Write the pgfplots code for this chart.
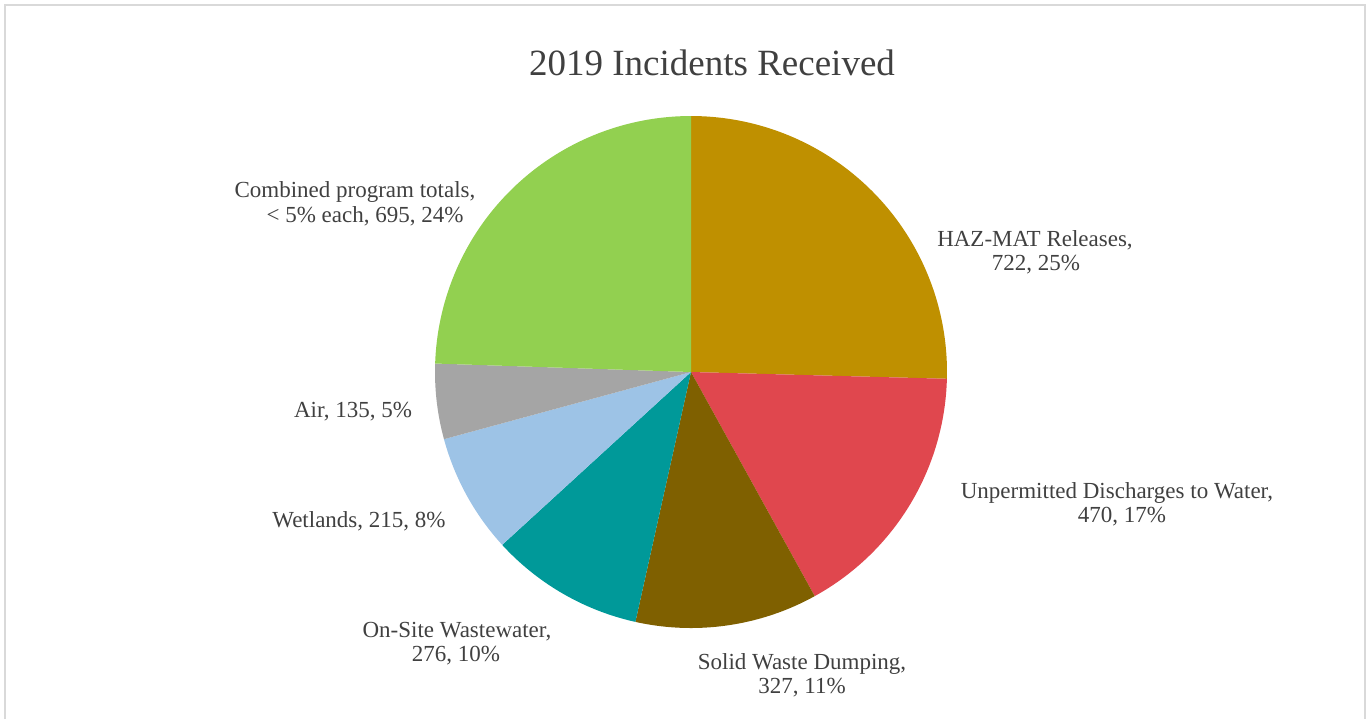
\documentclass[border=0pt]{standalone}
\usepackage{fontspec}
\setmainfont{Liberation Serif}
\usepackage{pgfplots}
\pgfplotsset{compat=1.18}
\usepgfplotslibrary{polar}

\definecolor{hazmat}{HTML}{BF9000}
\definecolor{unperm}{HTML}{E0474E}
\definecolor{solid}{HTML}{7F6000}
\definecolor{onsite}{HTML}{009999}
\definecolor{wetland}{HTML}{9DC3E6}
\definecolor{air}{HTML}{A5A5A5}
\definecolor{combined}{HTML}{92D050}
\definecolor{txt}{HTML}{404040}
\definecolor{frame}{HTML}{D9D9D9}

% total of all incidents
\def\total{2840}
% \slice{colour}{sum of the slices before}{value}, clockwise from 12 o'clock
\newcommand\slice[3]{%
  \pgfmathsetmacro\angA{90-(#2+#3)/\total*360}%
  \pgfmathsetmacro\angB{90-#2/\total*360}%
  \edef\doslice{\noexpand\addplot[draw=none, fill=#1, domain=\angA:\angB, samples=90]}%
  \doslice {1} -- (axis cs:0,0) -- cycle;
}

\begin{document}
\begin{tikzpicture}
\begin{scope}[x=0.5pt, y=-0.5pt]
  \useasboundingbox (0,0) rectangle (1371,719);
  \draw[frame, line width=0.9pt] (5,719) -- (5,5) -- (1365,5) -- (1365,719);
\end{scope}

\begin{polaraxis}[
  at={(345.5pt,-186pt)}, anchor=center,
  scale only axis, width=256pt, height=256pt,
  xmin=0, xmax=360, ymin=0, ymax=1,
  hide axis, clip=false,
]
  \slice{hazmat}{0}{722}
  \slice{unperm}{722}{470}
  \slice{solid}{1192}{327}
  \slice{onsite}{1519}{276}
  \slice{wetland}{1795}{215}
  \slice{air}{2010}{135}
  \slice{combined}{2145}{695}
\end{polaraxis}

\begin{scope}[x=0.5pt, y=-0.5pt, every node/.style={text=txt, anchor=base, inner sep=0pt, font=\fontsize{11.5}{13}\selectfont}]
  \node[font=\fontsize{18.5}{22}\selectfont] at (712,75) {2019 Incidents Received};
  \node at (355,197) {Combined program totals,};
  \node at (365,222) {< 5\% each, 695, 24\%};
  \node at (1035,246) {HAZ-MAT Releases,};
  \node at (1036,270) {722, 25\%};
  \node at (1117,498) {Unpermitted Discharges to Water,};
  \node at (1122,522) {470, 17\%};
  \node at (802,669) {Solid Waste Dumping,};
  \node at (802,693) {327, 11\%};
  \node at (457,637) {On-Site Wastewater,};
  \node at (456,661) {276, 10\%};
  \node at (359,527) {Wetlands, 215, 8\%};
  \node at (353,417) {Air, 135, 5\%};
\end{scope}
\end{tikzpicture}
\end{document}
